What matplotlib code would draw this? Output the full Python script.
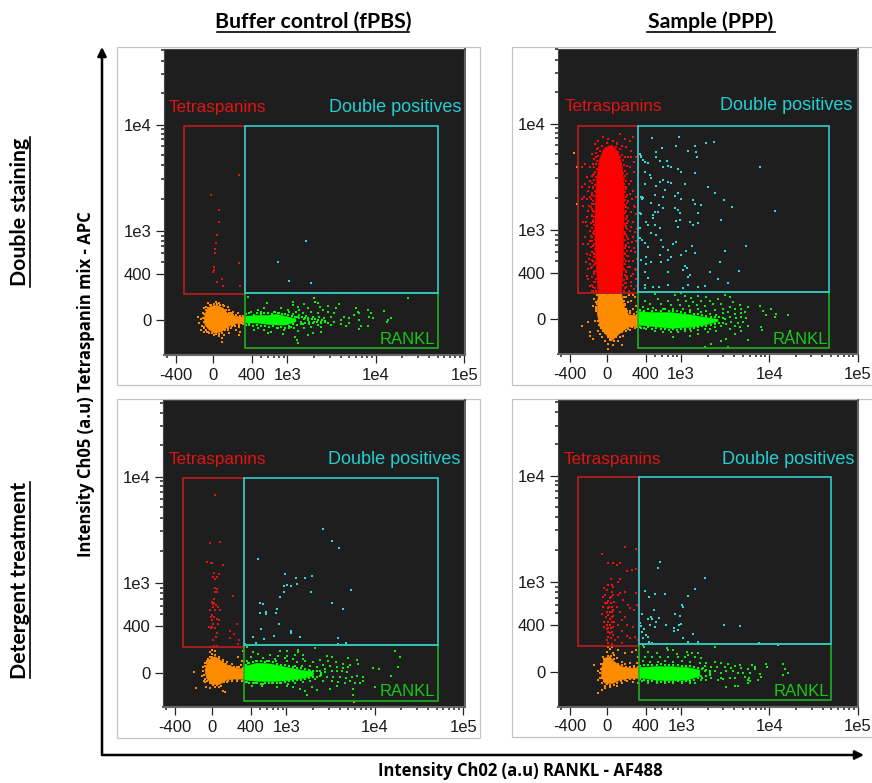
import numpy as np
import matplotlib
matplotlib.use("Agg")
import matplotlib.pyplot as plt
from matplotlib.lines import Line2D
from matplotlib.patches import Rectangle, Polygon, FancyArrowPatch

W, H = 872, 783
# All marks are in biexponential display channels.
X_TICK_LABELS = ["-400", "0", "400", "1e3", "1e4", "1e5"]
X_TICK_CH = [35, 147, 263, 369, 634, 900]
Y_TICK_LABELS = ["0", "400", "1e3", "1e4"]
Y_TICK_CH = [104, 244, 373, 691]
X_MINOR = [8, 291, 311, 329, 344, 358, 449, 496, 529, 555, 575, 593, 608, 622,
           714, 761, 794, 820, 840, 858, 873, 887]
Y_MINOR = [280, 305, 326, 343, 358, 469, 529, 569, 600, 626, 647, 664, 678,
           787, 843, 883, 914]

TITLES = ["Buffer control (fPBS)", "Sample (PPP)"]
ROWS = ["Double staining", "Detergent treatment"]
YLABEL = "Intensity Ch05 (a.u) Tetraspanin mix - APC"
XLABEL = "Intensity Ch02 (a.u) RANKL - AF488"

# ---- Panel 1: buffer, double staining
P1_ORANGE_BLOB = [(119,110),(125,130),(137,145),(157,150),(177,140),(189,125),(209,117),(241,113),(241,95),(209,93),(189,83),(172,70),(152,65),(135,75),(122,90)]
P1_GREEN_BLOB = [(241,116),(277,118),(310,118),(335,122),(365,116),(395,108),(395,100),(365,90),(340,90),(310,92),(277,96),(241,96)]
P1_RED = [(224,540),(139,480),(164,435),(164,400),(159,360),(155,335),(152,317),(152,307),(224,275),(148,263),(150,255),(147,250),(172,227),(157,218),(177,207),(228,207)]
P1_CYAN = [(425,343),(340,279),(373,223),(441,215),(497,185),(580,187)]
P1_GREEN = [(251,175),(732,172),(450,170),(453,160),(387,158),(462,155),(307,157),(467,145),(386,150),(400,145),(420,152),(405,135),(430,140),(350,140),(370,135),(300,140),(280,135),(260,130),(290,128),(330,130),(345,125),(375,128),(395,128),(415,125),(440,128),(460,125),(475,135),(490,130),(510,125),(525,152),(490,148),(515,142),(575,140),(580,130),(585,125),(612,135),(620,125),(660,132),(615,115),(570,120),(540,115),(555,110),(530,105),(500,115),(480,110),(465,115),(445,115),(425,118),(405,110),(395,115),(410,100),(430,105),(450,100),(470,100),(490,95),(510,100),(530,92),(545,88),(555,95),(585,105),(590,88),(610,88),(668,100),(680,112),(670,105),(625,110),(500,90),(470,85),(440,85),(420,80),(400,72),(390,80),(380,85),(360,75),(340,80),(320,70),(310,65),(300,75),(280,80),(270,75),(255,90),(398,45),(393,55),(400,35),(445,65),(430,60),(355,62),(470,70),(585,78),(415,92),(435,92),(405,120),(418,108),(460,90),(385,122),(375,82)]
P1_GREEN_FRINGE = [(245,122),(255,126),(268,120),(278,125),(290,122),(300,127),(312,125),(322,123),(332,128),(342,126),(352,124),(362,122),(372,120),(382,118),(392,115),(402,113),(412,114),(422,112),(432,110),(442,108),(452,108),(462,106),(472,104),(482,102),(245,90),(255,92),(265,88),(278,90),(290,86),(302,88),(314,84),(326,86),(338,82),(350,84),(362,82),(374,88),(386,92),(398,90),(410,94),(422,96),(434,98),(446,96),(458,100),(470,95),(482,98)]
P1_ORANGE = [(105,95),(110,75),(115,125),(118,140),(125,145),(130,155),(140,150),(155,160),(165,155),(175,150),(195,135),(205,130),(220,125),(190,145),(195,110),(215,105),(225,85),(228,70),(225,60),(172,50),(172,40),(165,58),(150,60),(135,65),(120,80),(110,108),(190,75),(200,80),(215,75),(180,60),(195,65),(100,115),(210,90),(230,95),(205,120),(112,88),(118,70),(128,68),(183,132),(200,125)]
P1_ORANGE_FRINGE = [(118,100),(116,112),(120,122),(124,136),(130,142),(138,150),(148,154),(158,154),(168,150),(178,146),(186,134),(194,126),(204,124),(214,120),(226,118),(236,118),(120,84),(124,76),(132,70),(142,66),(154,62),(164,64),(174,66),(182,74),(192,80),(202,88),(212,88),(224,90),(236,92)]

# ---- Panel 2: sample, double staining
P2_ORANGE_BLOB = [(120,182),(190,182),(198,142),(212,117),(240,114),(240,84),(210,80),(185,62),(160,39),(145,57),(125,82),(117,122)]
P2_RED_BLOB = [(120,182),(112,292),(110,382),(112,462),(115,522),(123,582),(138,617),(160,627),(180,607),(192,562),(198,502),(198,422),(196,342),(195,262),(190,182)]
P2_GREEN_BLOB = [(240,127),(290,124),(340,124),(400,117),(440,110),(480,104),(480,97),(440,87),(400,80),(340,77),(290,82),(240,87)]
P2_RED = [(110,630),(120,640),(135,650),(150,645),(165,640),(185,660),(200,645),(215,640),(225,650),(130,625),(145,632),(175,632),(190,625),(205,620),(115,615),(100,600),(210,590),(220,610),(105,570),(95,560),(80,570),(70,560),(215,560),(228,575),(200,590),(235,590),(208,540),(218,520),(228,545),(85,530),(72,500),(80,510),(95,520),(100,535),(105,500),(88,490),(78,470),(95,470),(100,450),(75,445),(90,430),(85,410),(100,415),(105,395),(70,465),(205,500),(215,480),(225,490),(235,470),(210,460),(228,445),(205,440),(218,425),(235,420),(208,410),(225,395),(240,400),(205,385),(215,370),(230,365),(210,345),(222,335),(235,340),(205,325),(218,310),(230,305),(210,295),(205,280),(225,280),(238,285),(215,260),(230,255),(205,250),(220,235),(235,225),(208,225),(218,205),(228,195),(205,200),(237,205),(212,190),(85,385),(95,370),(100,350),(80,350),(90,330),(105,325),(100,305),(85,300),(92,285),(105,280),(100,260),(88,255),(108,245),(100,230),(90,225),(110,215),(105,200),(95,205),(112,190),(100,190),(85,235),(75,330),(82,275),(102,478),(92,445),(82,395),(98,392),(106,360),(94,340),(108,300),(96,270),(204,470),(212,510),(222,465),(232,440),(202,360),(212,322),(224,350),(202,300),(228,318),(214,278),(204,235),(226,240),(202,212),(220,215),(234,252),(108,540),(114,590),(218,590),(206,565),(92,500),(100,415),(75,395),(86,465),(104,430),(208,392),(220,380),(236,375)]
P2_RED_FRINGE = [(104,190),(110,198),(100,208),(108,216),(112,224),(102,232),(107,240),(111,250),(98,258),(106,266),(110,274),(101,282),(108,290),(96,298),(104,306),(109,314),(99,322),(106,330),(102,338),(109,346),(97,354),(105,362),(108,370),(100,378),(106,386),(98,394),(104,402),(108,410),(100,418),(106,426),(102,434),(97,442),(108,450),(103,458),(98,466),(106,474),(101,482),(109,490),(104,498),(111,506),(100,514),(107,522),(112,530),(103,538),(110,546),(115,554),(106,562),(112,570),(117,578),(108,586),(120,594),(114,602),(125,610),(118,618),(196,190),(200,198),(194,206),(203,214),(198,222),(206,230),(199,238),(203,246),(197,254),(209,262),(200,270),(204,278),(198,286),(208,294),(201,302),(206,310),(199,318),(204,326),(210,334),(200,342),(206,350),(203,358),(199,366),(208,374),(204,382),(200,390),(210,398),(203,406),(207,414),(201,422),(204,430),(210,438),(202,446),(206,454),(200,462),(204,470),(208,478),(201,486),(205,494),(200,502),(198,510),(204,518),(196,526),(201,534),(194,542),(199,550),(192,558),(197,566),(188,574),(193,582),(185,590),(190,598),(180,606),(184,614),(172,622),(176,630)]
P2_CYAN = [(281,649),(362,652),(445,632),(467,637),(355,624),(410,624),(313,617),(390,609),(293,607),(415,605),(245,599),(250,594),(295,592),(418,590),(255,582),(262,577),(270,574),(305,579),(327,580),(330,564),(315,562),(340,560),(605,561),(262,547),(277,537),(360,554),(370,547),(410,542),(280,527),(315,522),(330,517),(340,514),(305,517),(262,510),(295,504),(380,510),(450,502),(472,482),(250,472),(252,464),(255,467),(290,477),(320,492),(315,472),(360,482),(350,474),(370,464),(405,462),(410,450),(430,447),(498,462),(523,442),(650,429),(280,452),(302,447),(315,437),(290,427),(285,417),(245,424),(250,420),(350,437),(360,432),(365,422),(420,422),(395,397),(405,387),(420,392),(490,402),(365,402),(355,400),(360,382),(265,397),(245,377),(270,387),(290,387),(305,377),(280,364),(295,357),(245,347),(252,342),(260,332),(270,320),(310,342),(315,322),(355,337),(345,330),(330,312),(565,325),(500,309),(403,325),(385,310),(410,302),(370,297),(340,292),(330,282),(305,297),(265,292),(250,282),(265,270),(280,277),(310,277),(486,277),(380,264),(375,252),(388,257),(455,247),(542,249),(260,247),(330,247),(395,237),(390,230),(270,227),(260,207),(260,199),(285,200),(302,200),(330,207),(480,225),(510,212),(375,197),(390,207),(420,202),(440,204),(248,590),(253,470),(285,408),(300,425)]
P2_GREEN = [(290,180),(350,178),(370,183),(380,175),(400,168),(420,175),(445,170),(500,176),(515,170),(300,165),(330,160),(360,162),(385,160),(405,155),(430,160),(455,158),(480,165),(260,160),(275,150),(310,150),(340,148),(365,148),(392,145),(418,148),(440,145),(465,150),(490,150),(525,155),(545,148),(605,143),(255,140),(285,138),(315,135),(345,135),(375,135),(395,132),(420,135),(445,130),(470,132),(495,135),(515,140),(530,135),(550,135),(570,140),(615,130),(640,135),(655,120),(625,118),(650,110),(690,118),(430,125),(455,120),(475,118),(495,122),(510,125),(530,120),(548,122),(560,125),(500,105),(515,110),(535,108),(550,112),(565,108),(520,95),(540,92),(555,95),(570,85),(530,85),(545,80),(505,90),(490,85),(470,80),(455,75),(440,75),(420,72),(400,70),(380,68),(360,65),(340,65),(315,65),(290,70),(265,75),(250,78),(610,80),(612,72),(695,70),(505,45),(570,42),(460,30),(440,22),(510,20),(490,38),(530,60),(450,65),(475,68),(550,70),(515,75),(345,50),(395,55),(420,60)]
P2_GREEN_FRINGE = [(245,132),(258,130),(270,135),(282,130),(295,132),(308,130),(320,134),(332,130),(345,128),(358,130),(370,126),(382,124),(395,125),(408,120),(420,120),(432,116),(445,115),(458,112),(470,110),(482,112),(495,108),(245,80),(258,78),(270,82),(282,76),(295,78),(308,74),(320,76),(332,72),(345,74),(358,72),(370,76),(382,74),(395,76),(408,78),(420,82),(432,84),(445,84),(458,88),(470,90),(482,92),(495,94)]
P2_ORANGE = [(48,604),(55,560),(55,450),(72,85),(90,95),(95,65),(95,55),(105,145),(108,165),(113,135),(110,100),(118,70),(105,45),(125,60),(130,50),(140,38),(148,30),(165,28),(180,40),(195,55),(205,70),(215,72),(230,78),(200,150),(210,155),(220,160),(232,170),(205,135),(215,130),(225,135),(235,145),(238,125),(200,172),(212,176),(225,178),(150,15),(185,50),(190,28),(205,172),(112,155),(116,178)]
P2_ORANGE_FRINGE = [(114,130),(112,142),(116,150),(118,160),(122,170),(196,160),(198,170),(202,148),(206,128),(216,122),(228,120),(238,118),(118,100),(122,86),(128,78),(134,70),(140,62),(148,52),(156,42),(166,40),(172,50),(180,62),(190,66),(198,74),(210,76),(222,80),(236,80)]

# ---- Panel 3: buffer, detergent
P3_ORANGE_BLOB = [(125,112),(135,142),(155,152),(170,142),(190,127),(220,117),(243,115),(243,84),(215,85),(190,82),(170,69),(145,69),(130,87)]
P3_GREEN_BLOB = [(243,122),(280,132),(320,130),(360,122),(410,112),(450,106),(450,94),(410,85),(360,79),(320,77),(280,78),(243,82)]
P3_RED = [(156,637),(140,492),(169,497),(132,435),(142,432),(145,432),(180,427),(152,402),(148,392),(160,392),(168,400),(155,385),(156,357),(160,347),(156,347),(160,355),(208,334),(145,317),(152,312),(150,302),(165,302),(170,292),(140,292),(155,292),(146,277),(152,272),(145,262),(160,265),(137,242),(150,249),(165,249),(220,249),(155,237),(145,242),(200,229),(212,219),(162,222),(158,212),(150,202),(200,209),(152,185),(160,185),(227,202),(225,189),(142,237),(148,310),(158,306),(152,325),(168,262),(142,270)]
P3_CYAN = [(478,535),(506,500),(527,479),(285,444),(366,400),(398,388),(424,388),(446,395),(402,371),(383,364),(370,367),(362,364),(362,347),(443,347),(563,351),(350,330),(342,294),(337,282),(289,314),(300,309),(506,313),(539,294),(308,285),(308,280),(289,282),(347,250),(292,234),(382,230),(383,222),(332,215),(269,210),(301,206),(410,210),(523,209),(523,191),(547,194),(246,191),(277,194)]
P3_GREEN = [(695,170),(710,150),(703,122),(630,117),(647,114),(683,94),(635,62),(570,37),(455,178),(405,172),(372,170),(350,168),(405,165),(250,180),(270,165),(285,160),(320,158),(345,155),(372,155),(395,158),(420,158),(262,150),(300,148),(335,145),(365,148),(390,145),(420,145),(490,155),(505,150),(555,147),(580,142),(250,140),(278,138),(310,140),(338,138),(370,138),(400,135),(425,138),(450,135),(470,142),(495,140),(518,135),(540,130),(560,128),(585,130),(255,132),(395,125),(415,125),(440,125),(460,122),(478,128),(500,125),(520,120),(540,118),(555,120),(470,110),(485,115),(505,108),(520,108),(535,110),(550,105),(470,95),(490,90),(510,92),(530,90),(548,88),(565,92),(580,95),(600,90),(480,80),(505,78),(525,75),(545,72),(560,80),(575,72),(455,85),(440,80),(420,75),(395,72),(375,70),(350,72),(325,72),(300,70),(275,72),(250,75),(390,60),(410,55),(425,48),(460,52),(430,38),(445,62),(500,55),(520,65),(590,72),(600,80),(570,55),(265,64),(295,64),(340,62),(370,64),(390,78),(430,95),(440,110),(425,115)]
P3_GREEN_FRINGE = [(247,128),(258,132),(268,136),(280,138),(292,140),(304,136),(316,138),(328,136),(340,130),(352,128),(364,128),(376,124),(388,120),(400,118),(412,118),(424,114),(436,112),(448,110),(460,108),(472,104),(484,106),(247,76),(258,74),(268,72),(280,74),(292,70),(304,72),(316,72),(328,72),(340,74),(352,74),(364,76),(376,78),(388,80),(400,82),(412,82),(424,86),(436,88),(448,90),(460,92),(472,98)]
P3_ORANGE = [(92,105),(97,58),(115,95),(118,120),(122,80),(125,75),(130,140),(140,150),(145,160),(155,158),(168,150),(180,142),(190,135),(205,130),(220,122),(232,128),(145,172),(140,165),(155,170),(128,62),(140,58),(155,62),(168,60),(178,48),(185,45),(205,78),(222,78),(235,78),(190,75),(240,170),(225,150),(237,140),(125,132),(572,15)]
P3_ORANGE_FRINGE = [(122,98),(120,110),(124,124),(128,134),(134,146),(146,152),(156,156),(168,148),(178,138),(188,130),(200,124),(212,122),(226,120),(238,118),(126,84),(132,78),(140,72),(150,66),(162,66),(172,64),(182,76),(194,78),(206,82),(220,82),(236,80)]

# ---- Panel 4: sample, detergent
P4_ORANGE_BLOB = [(130,115),(138,145),(155,150),(168,135),(190,120),(220,115),(241,117),(241,85),(215,85),(185,80),(165,70),(140,70),(130,90)]
P4_GREEN_BLOB = [(241,117),(290,120),(340,120),(390,117),(425,110),(425,92),(390,80),(340,78),(290,80),(241,87)]
P4_RED = [(132,458),(200,478),(233,473),(150,430),(165,430),(185,430),(175,425),(220,410),(207,407),(233,413),(158,383),(185,383),(180,375),(162,365),(150,365),(137,357),(165,360),(145,350),(140,335),(165,335),(160,345),(200,345),(185,340),(135,330),(155,325),(158,310),(140,310),(150,295),(160,300),(145,285),(155,285),(165,290),(150,275),(160,270),(142,270),(155,262),(148,255),(160,255),(145,245),(155,245),(150,235),(158,235),(148,225),(155,220),(160,225),(150,210),(145,200),(158,205),(150,190),(160,188),(175,300),(185,285),(200,270),(215,295),(235,305),(190,260),(180,245),(205,245),(192,228),(228,290),(225,240),(205,212),(230,210),(240,200),(215,205),(180,210),(190,190),(135,300),(132,278),(138,255),(180,335),(168,315),(195,320),(232,340),(208,305),(158,330),(160,285),(152,300),(146,310),(150,318),(165,272),(168,255),(163,240),(145,232),(138,240),(165,215),(170,200)]
P4_CYAN = [(305,435),(300,415),(440,387),(412,353),(260,347),(272,330),(290,337),(319,338),(389,332),(372,305),(373,298),(250,278),(349,278),(364,272),(288,290),(270,263),(280,263),(302,267),(292,253),(278,268),(324,245),(247,243),(245,250),(258,232),(250,225),(275,245),(290,240),(362,245),(368,248),(348,228),(360,230),(375,205),(404,218),(388,195),(420,195),(497,246),(545,243),(604,190),(660,185),(255,205),(268,210),(272,195),(280,192),(255,185),(348,235),(262,215)]
P4_GREEN = [(258,178),(270,165),(325,175),(328,170),(345,170),(400,162),(385,165),(420,162),(470,178),(295,160),(355,158),(390,155),(260,150),(280,150),(305,148),(330,150),(360,148),(380,148),(412,148),(430,145),(255,138),(275,135),(300,135),(320,138),(345,135),(370,138),(395,135),(425,132),(445,130),(470,135),(490,130),(510,128),(625,127),(628,118),(675,128),(680,113),(583,125),(590,120),(550,115),(570,112),(590,112),(530,122),(545,125),(440,122),(460,120),(478,118),(500,118),(520,115),(440,108),(455,102),(470,108),(490,102),(505,108),(525,108),(540,100),(555,100),(575,100),(605,97),(690,102),(675,95),(560,90),(572,85),(575,78),(530,85),(515,85),(495,82),(480,80),(460,85),(445,80),(430,80),(410,72),(395,72),(370,72),(345,70),(320,70),(295,72),(270,72),(250,77),(540,62),(570,70),(570,80),(532,62),(505,60),(490,85),(610,88),(600,80),(430,92),(445,92),(435,115)]
P4_GREEN_FRINGE = [(245,122),(257,126),(270,124),(282,126),(295,124),(308,128),(320,126),(332,124),(345,126),(358,124),(370,122),(382,122),(395,122),(408,118),(420,116),(432,112),(444,110),(456,106),(245,82),(257,80),(270,78),(282,76),(295,76),(308,74),(320,76),(332,74),(345,74),(358,76),(370,74),(382,76),(395,78),(408,80),(420,86),(432,86),(444,92),(456,94)]
P4_ORANGE = [(108,125),(118,107),(120,80),(118,42),(140,55),(155,60),(130,70),(125,100),(128,128),(135,150),(145,165),(155,172),(168,155),(175,145),(190,135),(200,128),(215,132),(228,122),(235,130),(150,180),(160,178),(180,170),(200,160),(165,162),(220,165),(238,150),(232,170),(190,72),(205,78),(225,75),(175,62),(240,72),(140,62),(130,50),(125,85)]
P4_ORANGE_FRINGE = [(126,100),(128,114),(132,128),(136,142),(148,152),(158,152),(168,142),(178,128),(190,124),(202,120),(214,118),(228,118),(238,120),(130,86),(136,76),(146,68),(156,66),(168,66),(176,72),(188,76),(200,80),(214,82),(228,82)]

ORANGE, GREEN, CYAN = "#ff8c00", "#12e812", "#30d8d8"
PANELS = [
 dict(box=(164.3,49,465,355), outer=(117,47,480,385),
      red=(59,241,183,688), cyan=(241,820,187,688), green=(241,820,20,187),
      tet=(12,742), dp=(494,742), rk=(647,47),
      blobs=[(P1_ORANGE_BLOB,ORANGE),(P1_GREEN_BLOB,"#00ff00")],
      pts=[(P1_ORANGE,ORANGE),(P1_ORANGE_FRINGE,ORANGE),(P1_RED,"#d81818"),(P1_GREEN,GREEN),(P1_GREEN_FRINGE,"#00ff00"),(P1_CYAN,CYAN)]),
 dict(box=(558.3,49,857.7,354), outer=(512,47,873,385),
      red=(58,240,182,685), cyan=(240,815,185,685), green=(240,815,18,185),
      tet=(20,744), dp=(487,744), rk=(645,45),
      blobs=[(P2_ORANGE_BLOB,ORANGE),(P2_RED_BLOB,"#ff0000"),(P2_GREEN_BLOB,"#00ff00")],
      pts=[(P2_ORANGE,ORANGE),(P2_ORANGE_FRINGE,ORANGE),(P2_RED,"#f01010"),(P2_RED_FRINGE,"#ff0000"),(P2_GREEN,GREEN),(P2_GREEN_FRINGE,"#00ff00"),(P2_CYAN,CYAN)]),
 dict(box=(163.3,400,465,707.3), outer=(117,399,480,738),
      red=(59,243,182,689), cyan=(243,823,187,689), green=(243,823,19,187),
      tet=(15,744), dp=(495,744), rk=(650,47),
      blobs=[(P3_ORANGE_BLOB,ORANGE),(P3_GREEN_BLOB,"#00ff00")],
      pts=[(P3_ORANGE,ORANGE),(P3_ORANGE_FRINGE,ORANGE),(P3_RED,"#d81818"),(P3_GREEN,GREEN),(P3_GREEN_FRINGE,"#00ff00"),(P3_CYAN,CYAN)]),
 dict(box=(558.3,400,858,706.7), outer=(512,399,873,737),
      red=(59,241,183,688), cyan=(241,819,188,688), green=(241,819,19,188),
      tet=(15,742), dp=(492,742), rk=(647,47),
      blobs=[(P4_ORANGE_BLOB,ORANGE),(P4_GREEN_BLOB,"#00ff00")],
      pts=[(P4_ORANGE,ORANGE),(P4_ORANGE_FRINGE,ORANGE),(P4_RED,"#f01010"),(P4_GREEN,GREEN),(P4_GREEN_FRINGE,"#00ff00"),(P4_CYAN,CYAN)]),
]

BG = "#1e1e1e"
RED_G, CY_G, GR_G = "#c01c1c", "#30ccd0", "#1eb01e"
SANS = ["Liberation Sans", "DejaVu Sans"]

fig = plt.figure(figsize=(W/100, H/100), dpi=100, facecolor="white")

def fx(p): return p / W
def fy(p): return 1 - p / H

for p in PANELS:
    ol, ot, or_, ob = p["outer"]
    fig.add_artist(Rectangle((fx(ol), fy(ob)), (or_-ol)/W, (ob-ot)/H, transform=fig.transFigure,
                             fc="none", ec="#c4c4c4", lw=0.9, zorder=-1))
    l, t, r, b = p["box"]
    ax = fig.add_axes([fx(l), fy(b), (r-l)/W, (b-t)/H], facecolor=BG)
    ax.set_xlim(0, (r-l)*3)
    ax.set_ylim(0, (b-t)*3)
    for poly, c in p["blobs"]:
        ax.add_patch(Polygon(poly, closed=True, fc=c, ec=c, lw=0.4, zorder=2))
    for pts, c in p["pts"]:
        a = np.array(pts, dtype=float)
        ax.scatter(a[:,0], a[:,1], s=2.0, c=c, marker="s", linewidths=0, zorder=3)
    for key, c in (("red",RED_G),("green",GR_G),("cyan",CY_G)):
        x0,x1,y0,y1 = p[key]
        ax.add_patch(Rectangle((x0,y0), x1-x0, y1-y0, fc="none", ec=c, lw=1.2, zorder=4))
    ax.text(*p["tet"], "Tetraspanins", color="#e01414", fontsize=12.3, family=SANS, va="center", ha="left", zorder=5)
    ax.text(*p["dp"], "Double positives", color="#22d0d4", fontsize=13, family=SANS, va="center", ha="left", zorder=5)
    ax.text(*p["rk"], "RANKL", color="#18c818", fontsize=12, family=SANS, va="center", ha="left", zorder=5)

    ax.set_xticks(X_TICK_CH); ax.set_xticklabels(X_TICK_LABELS, family=SANS, fontsize=12, color="#1a1a1a")
    ax.set_yticks(Y_TICK_CH); ax.set_yticklabels(Y_TICK_LABELS, family=SANS, fontsize=12, color="#1a1a1a")
    ax.set_xticks(X_MINOR, minor=True); ax.set_yticks(Y_MINOR, minor=True)
    ax.tick_params(axis="both", which="major", length=6, width=0.9, pad=3, color="#222222")
    ax.tick_params(axis="both", which="minor", length=2.2, width=1.1, color="#222222")
    for s in ("top","left"):
        ax.spines[s].set_color("#444444"); ax.spines[s].set_linewidth(0.8)
    for s in ("bottom","right"):
        ax.spines[s].set_color("#666666"); ax.spines[s].set_linewidth(1.5)

HEAD = ["Lato", "DejaVu Sans"]
for label, cx, x0, x1 in ((TITLES[0],313,217,409),(TITLES[1],711,647,775)):
    fig.text(fx(cx), fy(22), label, ha="center", va="center", fontsize=15.3, fontweight="bold", family=HEAD, color="black")
    fig.add_artist(Line2D([fx(x0),fx(x1)],[fy(32),fy(32)], color="black", lw=1.2, transform=fig.transFigure))
for label, cy, y0, y1 in ((ROWS[0],212,137,287),(ROWS[1],580,482,678)):
    fig.text(fx(20), fy(cy), label, rotation=90, ha="center", va="center", fontsize=15.3, fontweight="bold", family=HEAD, color="black")
    fig.add_artist(Line2D([fx(30),fx(30)],[fy(y0),fy(y1)], color="black", lw=1.2, transform=fig.transFigure))
fig.text(fx(86), fy(384), YLABEL, rotation=90, ha="center", va="center", fontsize=12, fontweight="bold", family=["Open Sans","DejaVu Sans"], color="black")
fig.text(fx(520), fy(771), XLABEL, ha="center", va="center", fontsize=12, fontweight="bold", family=["Open Sans","DejaVu Sans"], color="black")

ARROW = dict(arrowstyle="-|>", color="black", lw=1.8, mutation_scale=13, shrinkA=0, shrinkB=0)
fig.add_artist(FancyArrowPatch((fx(102),fy(755)),(fx(102),fy(47)), transform=fig.transFigure, **ARROW))
fig.add_artist(FancyArrowPatch((fx(102),fy(755)),(fx(864),fy(755)), transform=fig.transFigure, **ARROW))

fig.savefig("out.png", dpi=100, facecolor="white")
